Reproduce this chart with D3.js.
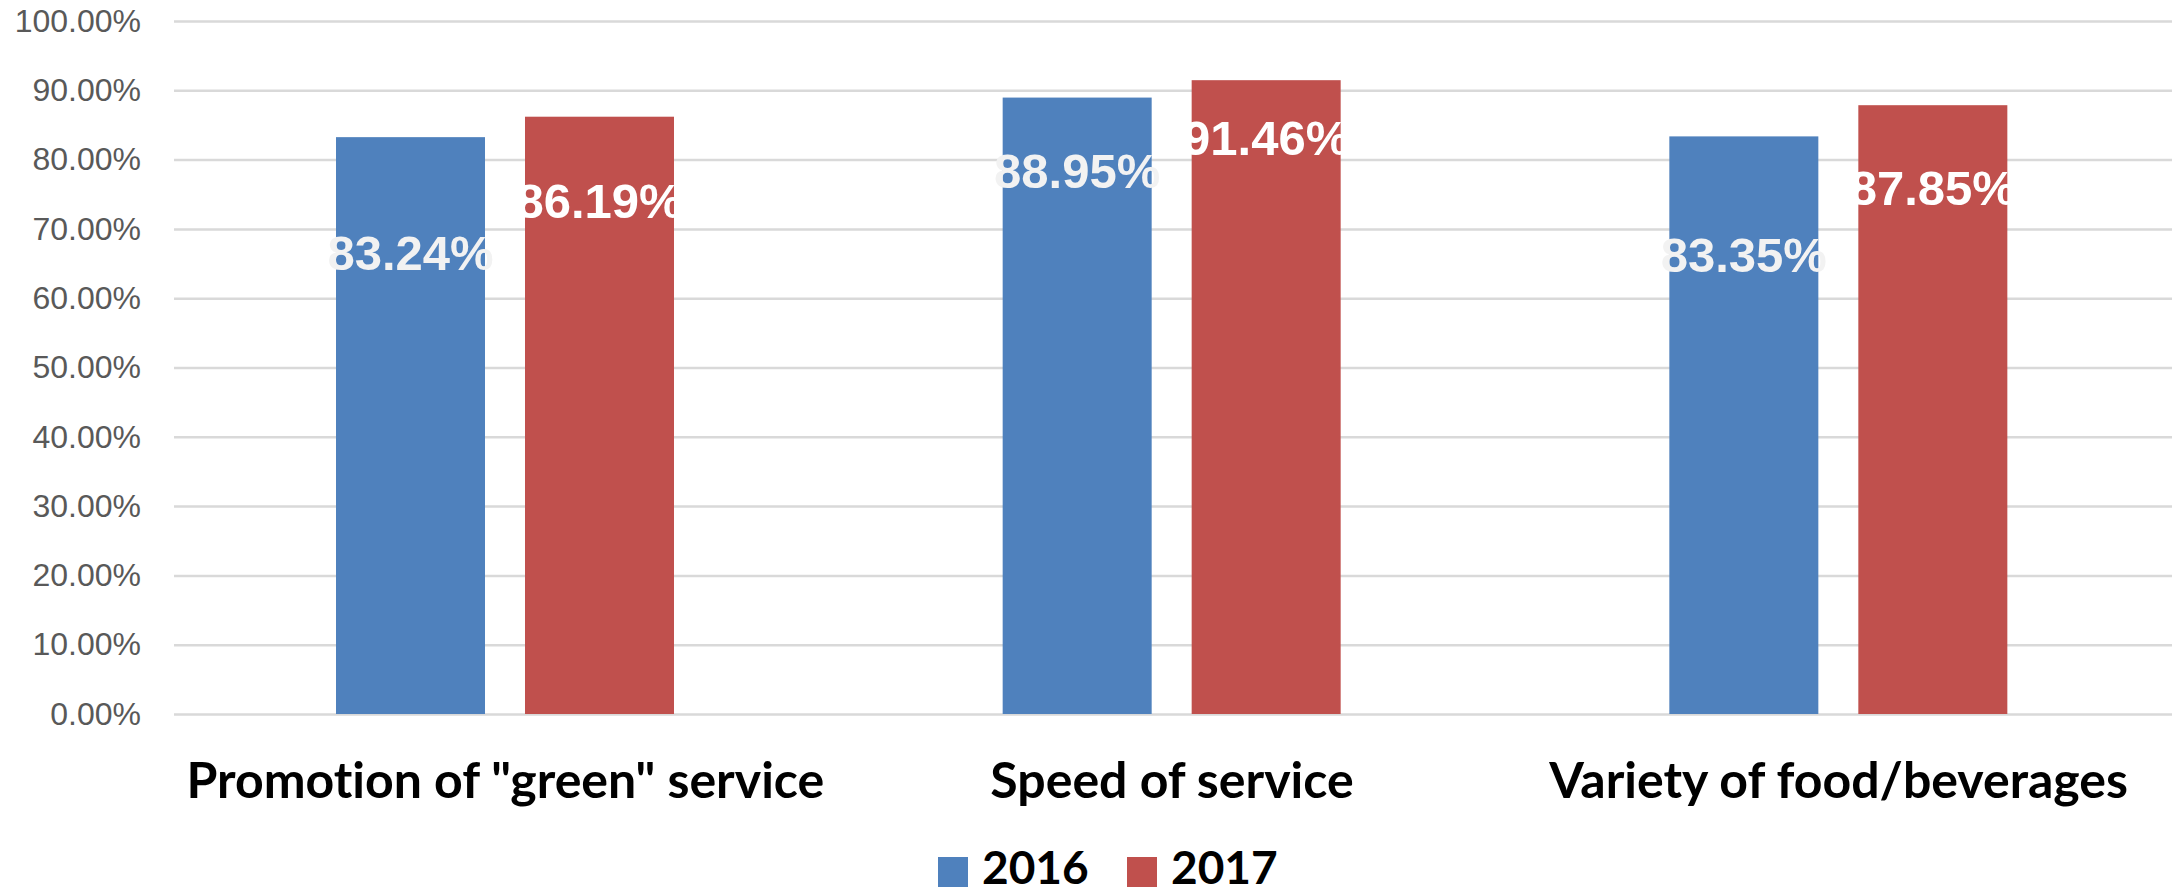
<!DOCTYPE html>
<html>
<head>
<meta charset="utf-8">
<script src="https://cdn.jsdelivr.net/npm/d3@7"></script>
<style>
  body { margin: 0; background: #fff; }
  .grid line { stroke: #d9d9d9; stroke-width: 2.5; }
  .grid text { fill: #595959; font-family: "Liberation Sans", Arial, sans-serif; font-size: 32px; }
  .bar_label { font-family: "Liberation Sans", Arial, sans-serif; font-weight: bold; font-size: 49px; }
  .cat_label, .legend_text { font-family: Lato, "Open Sans", sans-serif; font-weight: bold; fill: #000; font-variant-ligatures: none; }
</style>
</head>
<body>
<svg></svg>
<script>
let svgWidth = 2175;
let svgHeight = 895;

// data
let categories = ['Promotion of "green" service', 'Speed of service', 'Variety of food/beverages'];
let years = ['2016', '2017'];
let values2016 = [0.8324, 0.8895, 0.8335];
let values2017 = [0.8619, 0.9146, 0.8785];
let yTicks = [0, 0.1, 0.2, 0.3, 0.4, 0.5, 0.6, 0.7, 0.8, 0.9, 1.0];

// layout (label drop below bar top, px), as in the original picture
let labelDrop2016 = [133, 90, 136];
let labelDrop2017 = [101, 75, 100];
let colors = ['#4f81bd', '#c0504d'];
let labelColors = ['#f2f2f2', '#ffffff'];

let plotLeft = 172, plotRight = 2172, gridLeft = 174;

let svg = d3.select('svg').attr('width', svgWidth).attr('height', svgHeight);

let xScale = d3.scaleBand().domain(categories).range([plotLeft, plotRight]);
let xSub = d3.scaleBand().domain(years).range([164, 502]).paddingInner(0.2116);
let yScale = d3.scaleLinear().domain([0, 1]).range([714, 21]);

let y_axis = d3.axisLeft(yScale).tickValues(yTicks)
    .tickFormat(d3.format('.2%'))
    .tickSizeInner(-(plotRight - gridLeft))
    .tickSizeOuter(0)
    .tickPadding(33);
svg.append('g').attr('class', 'grid')
    .attr('transform', 'translate(' + gridLeft + ',0)')
    .call(y_axis).select('.domain').remove();

let series = [values2016, values2017];
let drops = [labelDrop2016, labelDrop2017];

for (let s = 0; s < years.length; s++) {
    let rows = categories.map(function(c, i) { return {cat: c, v: series[s][i], drop: drops[s][i]}; });
    let g = svg.append('g');
    g.selectAll('rect').data(rows).enter().append('rect')
        .attr('x', d => xScale(d.cat) + xSub(years[s]))
        .attr('y', d => yScale(d.v))
        .attr('width', xSub.bandwidth())
        .attr('height', d => yScale(0) - yScale(d.v))
        .attr('fill', colors[s]);
    g.selectAll('text').data(rows).enter().append('text')
        .attr('class', 'bar_label')
        .attr('x', d => xScale(d.cat) + xSub(years[s]) + xSub.bandwidth() / 2)
        .attr('y', d => yScale(d.v) + d.drop)
        .attr('text-anchor', 'middle')
        .attr('fill', labelColors[s])
        .text(d => d3.format('.2%')(d.v));
}

svg.append('g').selectAll('text').data(categories).enter().append('text')
    .attr('class', 'cat_label')
    .attr('x', d => xScale(d) + xScale.bandwidth() / 2)
    .attr('y', 798)
    .attr('text-anchor', 'middle')
    .attr('font-size', 50)
    .text(d => d);

// legend
let legend = svg.append('g').attr('transform', 'translate(938, 857)');
let legendStep = 189;
years.forEach(function(yr, i) {
    legend.append('rect').attr('x', i * legendStep).attr('y', 0)
        .attr('width', 30).attr('height', 30).attr('fill', colors[i]);
    legend.append('text').attr('class', 'legend_text')
        .attr('x', i * legendStep + 44).attr('y', 27)
        .attr('font-size', 46)
        .text(yr);
});
</script>
</body>
</html>
